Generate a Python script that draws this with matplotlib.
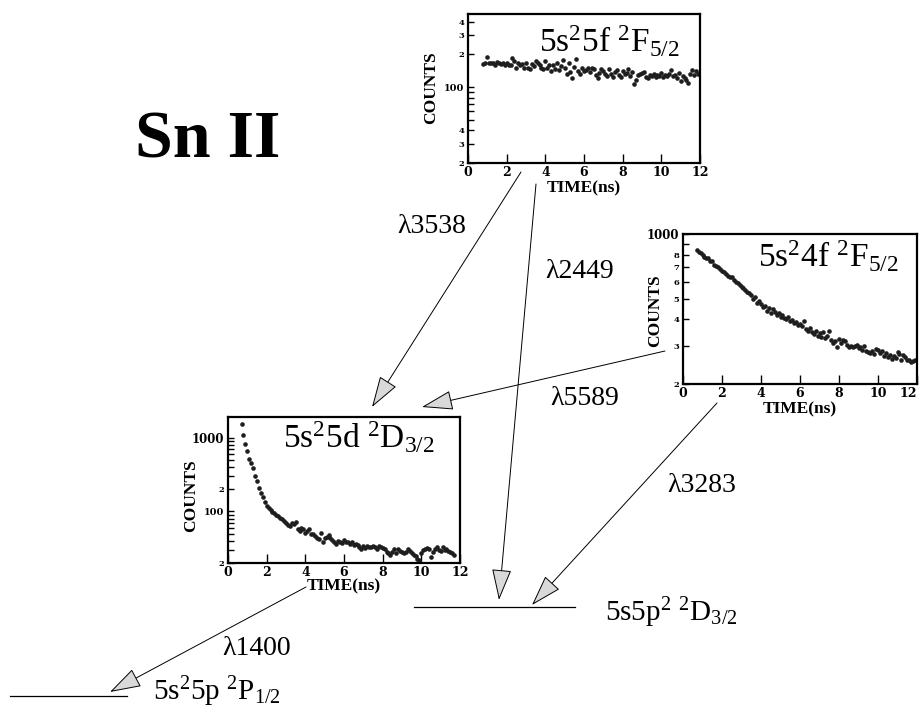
import numpy as np
import matplotlib.pyplot as plt
from matplotlib.patches import FancyArrowPatch
from matplotlib.ticker import NullLocator

plt.rcParams['font.family'] = ['Liberation Serif', 'DejaVu Serif']
plt.rcParams['mathtext.fontset'] = 'custom'
plt.rcParams['mathtext.rm'] = 'Liberation Serif'
plt.rcParams['mathtext.it'] = 'Liberation Serif:italic'
plt.rcParams['mathtext.bf'] = 'Liberation Serif:bold'

#
# DATA
#

# Time channels [ns]
time_ns = [0.7, 0.8, 0.9,
           1.0, 1.1, 1.2, 1.3, 1.4, 1.5, 1.6, 1.7, 1.8, 1.9,
           2.0, 2.1, 2.2, 2.3, 2.4, 2.5, 2.6, 2.7, 2.8, 2.9,
           3.0, 3.1, 3.2, 3.3, 3.4, 3.5, 3.6, 3.7, 3.8, 3.9,
           4.0, 4.1, 4.2, 4.3, 4.4, 4.5, 4.6, 4.7, 4.8, 4.9,
           5.0, 5.1, 5.2, 5.3, 5.4, 5.5, 5.6, 5.7, 5.8, 5.9,
           6.0, 6.1, 6.2, 6.3, 6.4, 6.5, 6.6, 6.7, 6.8, 6.9,
           7.0, 7.1, 7.2, 7.3, 7.4, 7.5, 7.6, 7.7, 7.8, 7.9,
           8.0, 8.1, 8.2, 8.3, 8.4, 8.5, 8.6, 8.7, 8.8, 8.9,
           9.0, 9.1, 9.2, 9.3, 9.4, 9.5, 9.6, 9.7, 9.8, 9.9,
           10.0, 10.1, 10.2, 10.3, 10.4, 10.5, 10.6, 10.7, 10.8, 10.9,
           11.0, 11.1, 11.2, 11.3, 11.4, 11.5, 11.6, 11.7, 11.8, 11.9]

# 5s2 5f 2F5/2 counts, from 0.8 ns
counts_5f = [163, 165,
             190, 167, 168, 166, 160, 170, 167, 164, 166, 158,
             165, 161, 160, 185, 172, 150, 165, 158, 162, 149,
             168, 150, 146, 163, 155, 172, 166, 160, 151, 147,
             175, 150, 160, 141, 158, 148, 168, 144, 155, 178,
             149, 131, 165, 137, 120, 152, 181, 140, 133, 149,
             140, 144, 150, 137, 150, 147, 129, 120, 135, 148,
             140, 131, 127, 146, 132, 124, 138, 145, 128, 124,
             141, 133, 136, 146, 127, 138, 107, 117, 128, 131,
             135, 137, 125, 121, 128, 127, 132, 125, 130, 126,
             136, 124, 128, 127, 131, 145, 126, 130, 122, 135,
             113, 126, 120, 116, 110, 132, 142, 128, 139, 132]

# 5s2 4f 2F5/2 counts, from 0.7 ns
counts_4f = [842, 820, 812,
             795, 782, 770, 772, 748, 745, 720, 712, 700, 690,
             672, 668, 652, 640, 632, 628, 612, 600, 592, 580,
             566, 562, 548, 536, 532, 520, 500, 508, 478, 485,
             470, 458, 462, 440, 452, 430, 445, 435, 420, 428,
             412, 418, 405, 402, 410, 392, 398, 385, 390, 378,
             382, 374, 392, 362, 355, 365, 348, 342, 352, 336,
             344, 330, 348, 326, 336, 352, 322, 312, 318, 296,
             324, 312, 320, 316, 305, 298, 302, 296, 300, 304,
             294, 296, 288, 300, 286, 282, 280, 286, 276, 292,
             289, 280, 284, 270, 278, 268, 274, 262, 270, 264,
             282, 276, 260, 272, 266, 258, 260, 252, 256, 258]

# 5s2 5d 2D3/2 counts, 0.7 to 11.7 ns
counts_5d = [1550, 1090, 830,
             650, 520, 450, 390, 300, 262, 205, 180, 158, 132,
             120, 110, 104, 99, 95, 90, 86, 82, 78, 74,
             70, 66, 64, 70, 67, 71, 58, 55, 60, 57,
             51, 55, 58, 50, 49, 47, 44, 42, 51, 38,
             44, 45, 48, 44, 41, 39, 36, 40, 39, 37,
             41, 39, 38, 36, 38, 35, 36, 35, 33, 31,
             34, 32, 34, 33, 33, 34, 33, 31, 34, 33,
             32, 31, 28, 27, 25.6, 28, 31, 27, 30.5, 29,
             28, 27, 28.4, 30.5, 29, 27, 26, 25, 23, 22,
             27, 30, 31, 32, 31, 24.3, 28, 31, 32.5, 30,
             29, 33, 30, 30.5, 29, 28.4, 27, 25.6]

# Y ticks of each panel
yticks_5f = [20, 30, 40, 50, 60, 70, 80, 90, 100, 200, 300, 400]
ylabels_5f = ['2', '3', '4', '', '', '', '', '', '100', '2', '3', '4']
yticks_4f = [200, 300, 400, 500, 600, 700, 800, 900, 1000]
ylabels_4f = ['2', '3', '4', '5', '6', '7', '8', '', '1000']
yticks_5d = [20, 30, 40, 50, 60, 70, 80, 90, 100, 200, 300, 400, 500,
             600, 700, 800, 900, 1000]
ylabels_5d = ['2', '', '', '', '', '', '', '', '100', '2', '', '', '',
              '', '', '', '', '1000']

# Transition labels
wavelengths = ['λ3538', 'λ2449', 'λ5589', 'λ3283', 'λ1400']

#
# FIGURE
#

W, H = 923, 717
fig = plt.figure(figsize=(W / 100, H / 100), dpi=100)

# Background axes in pixel units for the level diagram
bg = fig.add_axes([0, 0, 1, 1])
bg.set_xlim(0, W)
bg.set_ylim(H, 0)
bg.axis('off')


def decay_panel(box, t, counts, ylim, yticks, ylabels, title, title_xy,
                ylabel_xy, xlabel_y):
    left, top, right, bottom = box
    ax = fig.add_axes([left / W, 1 - bottom / H, (right - left) / W,
                       (bottom - top) / H])
    ax.plot(t, counts, 'o', ms=3.3, color='#1e1e1e', mec='none')
    ax.set_yscale('log')
    ax.set_xlim(0, 12)
    ax.set_ylim(*ylim)
    ax.set_xticks(range(0, 13, 2))
    ax.set_yticks(yticks)
    ax.set_yticklabels(ylabels)
    ax.yaxis.set_minor_locator(NullLocator())
    for s in ax.spines.values():
        s.set_linewidth(1.6)
    ax.tick_params(axis='x', direction='in', length=6.5, width=1, pad=2)
    ax.tick_params(axis='y', direction='in', length=4.5, width=1, pad=2.5)
    for lbl in ax.get_xticklabels():
        lbl.set_fontfamily('DejaVu Serif')
        lbl.set_fontweight('bold')
        lbl.set_fontsize(9)
    for lbl, txt in zip(ax.get_yticklabels(), ylabels):
        lbl.set_fontfamily('DejaVu Serif')
        lbl.set_fontweight('bold')
        lbl.set_fontsize({4: 8.5, 3: 7}.get(len(txt), 6))
    ax.set_xlabel('TIME(ns)', fontsize=12.5, fontweight='bold')
    ax.xaxis.set_label_coords(0.5, xlabel_y)
    ax.set_ylabel('COUNTS', fontsize=12.5, fontweight='bold')
    ax.yaxis.set_label_coords(*ylabel_xy)
    ax.yaxis.label.set_va('center')
    ax.text(title_xy[0], title_xy[1], title, transform=ax.transAxes,
            ha='right', va='baseline', fontsize=24)
    return ax


decay_panel((468, 14, 700, 163), time_ns[1:], counts_5f, (20, 470),
            yticks_5f, ylabels_5f, r'5s$^2$5f $^2$F$_{5/2}$', (0.914, 0.744),
            (-0.16, 0.507), -0.116)
ax_4f = decay_panel((683, 234, 917, 384), time_ns, counts_4f, (200, 1000),
                    yticks_4f, ylabels_4f, r'5s$^2$4f $^2$F$_{5/2}$',
                    (0.921, 0.78), (-0.121, 0.49), -0.118)
# keep the last tick label inside the picture
ax_4f.get_xticklabels()[-1].set_ha('right')
ax_4f.get_xticklabels()[-1].set_x(12.15)
decay_panel((228, 417, 460, 563), time_ns[:111], counts_5d, (20, 1900),
            yticks_5d, ylabels_5d, r'5s$^2$5d $^2$D$_{3/2}$', (0.892, 0.787),
            (-0.158, 0.46), -0.105)

# Ion label
bg.text(135, 157, 'Sn II', fontsize=49, fontweight='bold', ha='left',
        va='baseline')

# Energy levels
bg.plot([414, 575], [607, 607], color='black', lw=0.9)
bg.plot([10, 127], [696, 696], color='black', lw=0.9)
bg.text(605, 621, r'5s5p$^{2}$ $^{2}$D$_{3/2}$', fontsize=21, ha='left',
        va='baseline')
bg.text(153, 700, r'5s$^2$5p $^2$P$_{1/2}$', fontsize=21, ha='left',
        va='baseline')

# Transitions: start, tip, label position
arrows = [((521, 172), (372, 407), (397, 233)),
          ((536, 184), (499, 600), (545, 278)),
          ((665, 351), (422, 407), (550, 405)),
          ((717, 403), (532, 605), (667, 492)),
          ((306, 587), (110, 692), (222, 655))]
for (start, tip, lab), name in zip(arrows, wavelengths):
    bg.add_patch(FancyArrowPatch(start, tip,
                                 arrowstyle='-|>,head_length=20,head_width=6.3',
                                 mutation_scale=1, shrinkA=0, shrinkB=0,
                                 lw=0.7, edgecolor='black',
                                 facecolor='#d9d9d9'))
    bg.text(lab[0], lab[1], name, fontsize=20, ha='left', va='baseline')

fig.savefig('out.png', dpi=100)
